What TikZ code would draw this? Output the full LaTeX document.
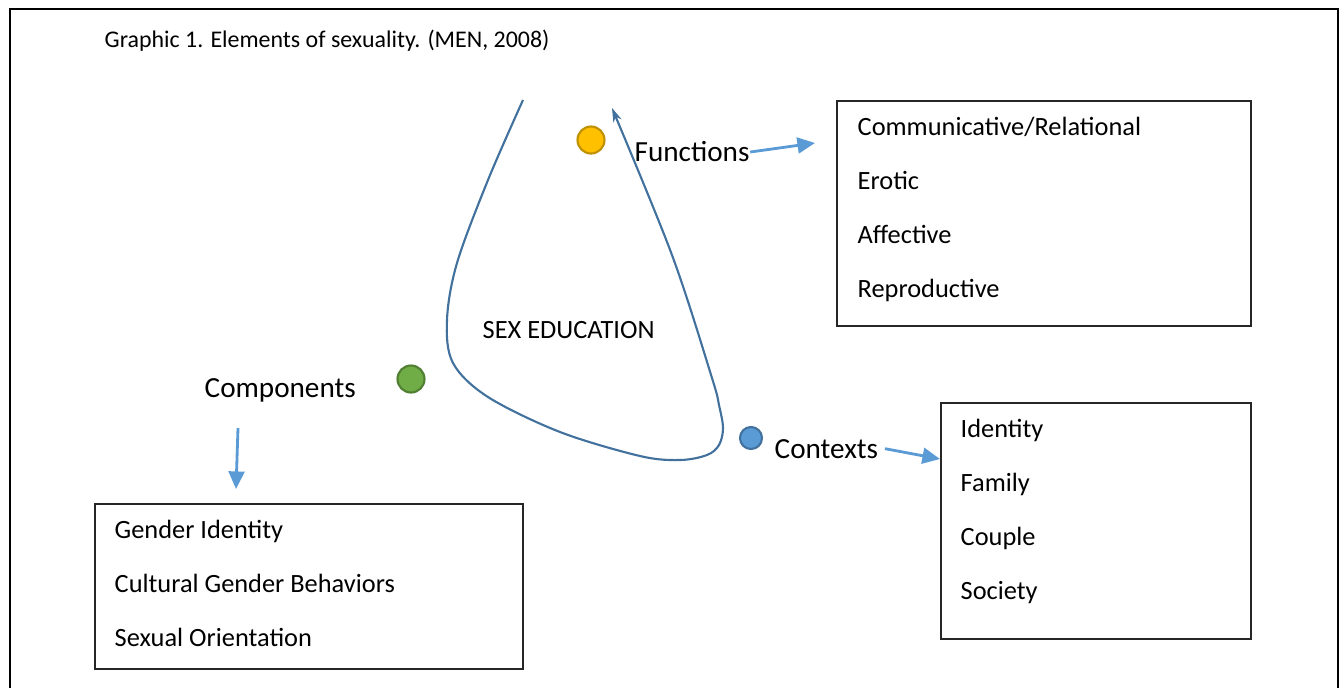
\documentclass[tikz,border=0pt]{standalone}
\usepackage{fontspec}
\setmainfont{Carlito}
\usetikzlibrary{arrows.meta}

\definecolor{loopblue}{RGB}{65,113,156}
\definecolor{arrowblue}{RGB}{91,155,213}
\definecolor{dotyellow}{RGB}{255,192,0}
\definecolor{dotyellowrim}{RGB}{191,144,0}
\definecolor{dotgreen}{RGB}{112,173,71}
\definecolor{dotgreenrim}{RGB}{80,126,50}

\tikzset{
  box/.style={draw=black!85, line width=0.45pt, anchor=north west, inner sep=0pt},
  item/.style={anchor=base west, inner sep=0pt, font=\fontsize{7.5}{9}\selectfont},
  label/.style={anchor=base west, inner sep=0pt, font=\fontsize{8.3}{10}\selectfont},
  dot/.style={circle, inner sep=0pt, line width=0.6pt},
  link/.style={draw=arrowblue, line width=0.8pt, -{Triangle[length=5pt,width=4.5pt]}}
}

\begin{document}
\begin{tikzpicture}[x=0.01cm, y=-0.01cm]
  \useasboundingbox (0,0) rectangle (1341,687);

  % frame, open at the bottom
  \draw[line width=0.75pt] (10,700) -- (10,9) -- (1338,9) -- (1338,700);

  \node[anchor=base west, inner sep=0pt, font=\fontsize{6.8}{8}\selectfont] (caption) at (104,47)
    {Graphic 1. Elements of sexuality. (MEN, 2008)};

  % the loop
  \draw[loopblue, line width=0.6pt, -{Stealth[length=4pt,width=2.5pt]}]
    plot[smooth, tension=0.55] coordinates {(523,100) (488,180) (457,263) (447,320) (453,363)
      (488,397) (560,432) (640,456) (680,460) (707,455) (719,445) (723,428) (719,405)
      (712,378) (672,255) (612,108)};
  \node[item] (core) at (482,338) {SEX EDUCATION};

  % dots
  \node[dot, minimum size=0.27cm, fill=dotyellow, draw=dotyellowrim] (fndot) at (591,140) {};
  \node[dot, minimum size=0.27cm, fill=dotgreen, draw=dotgreenrim] (cpdot) at (411,379) {};
  \node[dot, minimum size=0.22cm, fill=arrowblue, draw=loopblue] (ctdot) at (751,438) {};

  % labels
  \node[label] (functions) at (634,161) {Functions};
  \node[label] (contexts) at (774,458) {Contexts};
  \node[label] (components) at (204,397) {Components};

  % functions box
  \node[box, minimum width=4.14cm, minimum height=2.25cm] (fnbox) at (836,100) {};
  \node[item] (fn1) at (857,135) {Communicative/Relational};
  \node[item] (fn2) at (857,189) {Erotic};
  \node[item] (fn3) at (857,243) {Affective};
  \node[item] (fn4) at (857,297) {Reproductive};

  % contexts box
  \node[box, minimum width=3.10cm, minimum height=2.36cm] (ctbox) at (940,402) {};
  \node[item] (ct1) at (960,437) {Identity};
  \node[item] (ct2) at (960,491) {Family};
  \node[item] (ct3) at (960,545) {Couple};
  \node[item] (ct4) at (960,599) {Society};

  % components box
  \node[box, minimum width=4.28cm, minimum height=1.65cm] (cpbox) at (94,503) {};
  \node[item] (cp1) at (114,538) {Gender Identity};
  \node[item] (cp2) at (114,592) {Cultural Gender Behaviors};
  \node[item] (cp3) at (114,646) {Sexual Orientation};

  % arrows
  \coordinate (fnend) at (815,143);
  \coordinate (ctend) at (940,459);
  \coordinate (cpstart) at (238,428);
  \coordinate (cpend) at (236,489);
  \draw[link] (functions.east) ++(0,1) -- (fnend);
  \draw[link] (contexts.east) ++(6,0) -- (ctend);
  \draw[link] (cpstart) -- (cpend);
\end{tikzpicture}
\end{document}
